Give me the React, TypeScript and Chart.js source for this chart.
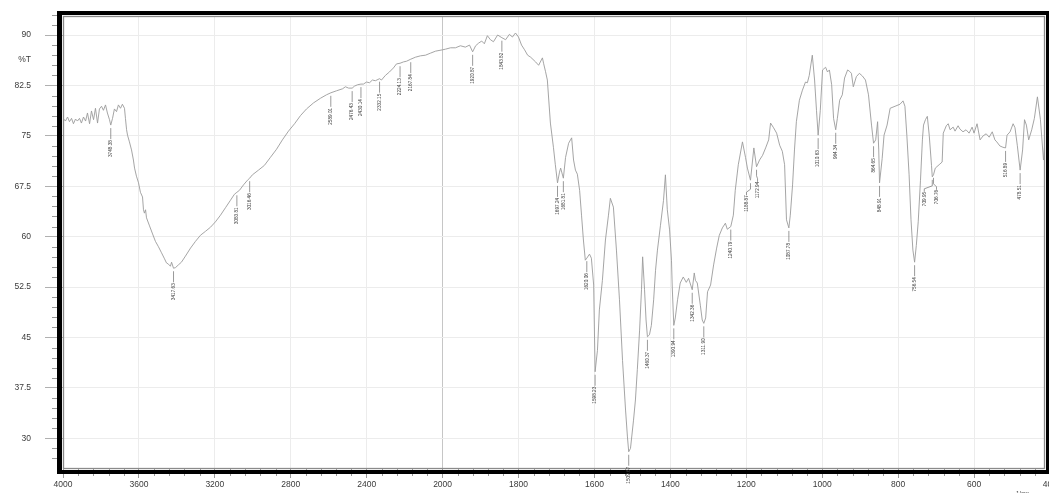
import { useEffect, useRef } from "react";
import { Chart, registerables } from "chart.js";

Chart.register(...registerables);

// Infrared spectrum, wavenumber (1/cm) against transmittance (%T)
const wavenumbers = [
  4000, 3987, 3976, 3966, 3955, 3945, 3934, 3924, 3913, 3903, 3892, 3881, 3871, 3860, 3850, 3839,
  3829, 3818, 3808, 3797, 3787, 3776, 3766, 3755, 3748.38, 3739, 3729, 3718, 3708, 3697, 3687, 3676,
  3671, 3665, 3660, 3650, 3639, 3629, 3623, 3613, 3602, 3592, 3581, 3576, 3571, 3565, 3560, 3544,
  3528, 3513, 3497, 3481, 3465, 3455, 3444, 3434, 3428, 3417.63, 3407, 3392, 3376, 3355, 3328, 3302,
  3276, 3249, 3223, 3197, 3170, 3144, 3118, 3097, 3083.81, 3070, 3049, 3028, 3016.46, 3002, 2970, 2939,
  2907, 2875, 2844, 2812, 2780, 2749, 2717, 2680, 2643, 2612, 2589.01, 2559, 2527, 2512, 2495, 2476.43,
  2464, 2448, 2430.14, 2417, 2401, 2385, 2370, 2354, 2332.15, 2322, 2301, 2280, 2259, 2243, 2224.13, 2206,
  2190, 2167.84, 2143, 2117, 2090, 2064, 2037, 2000,
  1992, 1979, 1966, 1953, 1940, 1929, 1920.87, 1913, 1905, 1897, 1890, 1882, 1874, 1866, 1855, 1843.82,
  1834, 1824, 1816, 1808, 1800, 1792, 1784, 1776, 1768, 1755, 1747, 1737, 1734, 1729, 1724, 1716,
  1708, 1703, 1697.24, 1692, 1689, 1681.81, 1676, 1668, 1660, 1655, 1650, 1645, 1639, 1634, 1629, 1624,
  1620.06, 1613, 1608, 1602, 1598.23, 1592, 1587, 1579, 1571, 1563, 1558, 1550, 1542, 1534, 1526, 1518,
  1513, 1509.67, 1505, 1497, 1492, 1487, 1481, 1476, 1473, 1468, 1464, 1460.37, 1455, 1450, 1444, 1439,
  1434, 1426, 1418, 1413, 1408, 1402, 1397, 1395, 1390.94, 1387, 1381, 1374, 1366, 1358, 1352, 1342.36,
  1337, 1334, 1329, 1321, 1316, 1311.9, 1307, 1302, 1294, 1286, 1278, 1271, 1263, 1255, 1250, 1240.79,
  1234, 1229, 1221, 1210, 1202, 1197, 1188.87, 1180, 1172.94, 1165, 1157, 1149, 1141, 1136, 1128, 1120,
  1112, 1105, 1099, 1094, 1087.78, 1084, 1078, 1073, 1068, 1060, 1052, 1044, 1039, 1034, 1026, 1020,
  1015, 1010.63, 1005, 999, 991, 986, 981, 975, 970, 964.34, 960, 954, 947, 941, 933, 928,
  923, 918, 910, 902, 894, 886, 878, 870, 864.65, 859, 854, 851, 848.91, 842, 837, 829,
  821, 808, 795, 787, 782, 777, 771, 766, 761, 756.54, 752, 747, 741, 736, 733, 728,
  723, 718, 712, 709.95, 706.76, 702, 692, 684, 681, 673, 668, 663, 655, 650, 642, 637,
  629, 621, 613, 605, 600, 592, 584, 576, 568, 560, 552, 545, 540, 532, 524, 516.89,
  513, 505, 497, 492, 486, 478.51, 472, 467, 462, 456, 448, 441, 433, 425, 417, 412,
];

const transmittance = [
  77.6, 77.2, 77.8, 77.1, 77.6, 76.8, 77.5, 77.2, 77.6, 76.9, 77.8, 77.2, 78.4, 76.8, 78.7, 77.4,
  79.1, 76.9, 79.0, 79.4, 78.8, 79.6, 78.4, 77.4, 76.6, 77.6, 79.0, 78.6, 79.6, 79.1, 79.7, 79.1,
  77.6, 75.9, 75.1, 74.1, 72.9, 71.4, 70.2, 69.0, 68.0, 66.6, 65.9, 64.0, 63.5, 64.0, 62.8, 61.6,
  60.4, 59.3, 58.5, 57.6, 56.7, 56.1, 55.9, 55.6, 56.2, 55.3, 55.4, 55.8, 56.2, 57.1, 58.3, 59.3,
  60.2, 60.8, 61.4, 62.2, 63.2, 64.3, 65.4, 66.3, 66.6, 66.9, 67.7, 68.4, 68.7, 69.2, 69.9, 70.6,
  71.8, 73.0, 74.4, 75.7, 76.8, 78.0, 79.0, 79.9, 80.6, 81.1, 81.4, 81.7, 82.0, 82.3, 82.1, 82.1,
  82.4, 82.6, 82.7, 82.7, 83.0, 82.9, 83.3, 83.2, 83.5, 83.3, 84.0, 84.5, 85.1, 85.7, 85.8, 86.0,
  86.1, 86.4, 86.7, 86.9, 87.0, 87.3, 87.6, 87.8,
  87.9, 88.1, 88.1, 88.4, 88.2, 88.5, 87.5, 88.4, 88.8, 89.1, 88.7, 89.9, 89.3, 89.0, 90.0, 89.6,
  89.3, 90.1, 89.7, 90.3, 89.7, 88.5, 87.8, 87.0, 86.7, 86.0, 85.5, 86.6, 85.8, 84.6, 83.3, 76.9,
  73.3, 70.7, 68.0, 69.6, 70.2, 68.7, 71.8, 73.9, 74.7, 71.4, 69.9, 69.3, 66.9, 63.2, 59.5, 56.5,
  56.8, 57.4, 56.8, 52.8, 39.9, 43.1, 49.1, 53.5, 59.5, 63.2, 65.7, 64.4, 58.0, 50.6, 41.6, 34.2,
  30.2, 28.0, 28.5, 32.7, 35.7, 40.2, 46.1, 52.1, 57.0, 52.1, 47.6, 45.1, 45.4, 46.8, 50.6, 55.0,
  58.0, 61.7, 65.4, 69.2, 64.0, 61.0, 56.5, 52.5, 46.8, 47.9, 50.6, 53.1, 54.0, 53.2, 53.8, 52.1,
  54.6, 53.5, 53.1, 49.8, 47.6, 47.1, 47.9, 51.8, 52.8, 55.8, 58.3, 60.2, 61.3, 62.0, 61.1, 61.5,
  63.2, 66.9, 70.7, 74.1, 71.8, 70.2, 68.4, 73.2, 70.4, 71.4, 72.1, 73.2, 74.4, 76.9, 76.2, 75.4,
  73.6, 72.7, 70.7, 62.5, 61.3, 63.2, 67.7, 72.9, 77.1, 80.3, 81.8, 83.0, 82.9, 84.0, 87.0, 83.3,
  78.8, 75.1, 78.8, 84.8, 85.2, 84.5, 84.8, 82.6, 77.6, 75.9, 77.6, 80.3, 81.1, 83.6, 84.8, 84.6,
  84.3, 82.3, 83.8, 84.3, 83.9, 83.3, 81.1, 76.6, 73.9, 74.4, 77.1, 72.9, 68.0, 71.6, 75.1, 76.6,
  79.1, 79.4, 79.7, 80.2, 79.4, 75.1, 69.2, 62.5, 58.0, 56.2, 58.7, 62.2, 68.4, 74.4, 76.6, 77.4,
  77.9, 75.1, 70.6, 68.9, 69.2, 70.2, 70.7, 71.1, 75.4, 76.5, 76.8, 75.9, 76.3, 75.7, 76.5, 76.0,
  75.6, 75.9, 75.4, 76.3, 75.4, 76.8, 74.4, 75.0, 75.3, 74.8, 75.6, 74.4, 74.1, 73.5, 73.3, 73.2,
  75.1, 75.6, 76.8, 76.2, 73.6, 69.9, 72.9, 77.4, 76.6, 74.4, 75.9, 77.6, 80.8, 77.4, 71.4, 75.1,
];

// Annotated band positions (1/cm)
const peakPositions = [
  3748.38, 3417.63, 3083.81, 3016.46, 2589.01, 2476.43, 2430.14, 2332.15, 2224.13, 2167.84,
  1920.87, 1843.82, 1697.24, 1681.81, 1620.06, 1598.23, 1509.67, 1460.37, 1390.94, 1342.36,
  1311.9, 1240.79, 1188.87, 1172.94, 1087.78, 1010.63, 964.34, 864.65, 848.91, 756.54,
  709.95, 706.76, 516.89, 478.51,
];

const xTickLabels = [4000, 3600, 3200, 2800, 2400, 2000, 1800, 1600, 1400, 1200, 1000, 800, 600, 400];
const yTickValues = [30, 37.5, 45, 52.5, 60, 67.5, 75, 82.5, 90];

// The abscissa is compressed two-fold above 2000 1/cm
const toAxis = (w: number) => (w >= 2000 ? (4000 - w) / 2 : 3000 - w);
const fromAxis = (u: number) => (u <= 1000 ? 4000 - 2 * u : 3000 - u);

const transmittanceAt = (w: number) => {
  for (let i = 0; i < wavenumbers.length - 1; i++) {
    const a = wavenumbers[i];
    const b = wavenumbers[i + 1];
    if (w <= a && w >= b) {
      const t = a === b ? 0 : (a - w) / (a - b);
      return transmittance[i] + t * (transmittance[i + 1] - transmittance[i]);
    }
  }
  return transmittance[transmittance.length - 1];
};

// label text offsets where neighbouring annotations would collide
const labelShift: Record<string, number> = { "709.95": -8, "706.76": 3, "1188.87": -4, "1172.94": 1 };

const AXIS_FONT = "'Liberation Sans', Arial, sans-serif";

const decorations = {
  id: "spectrumDecorations",
  afterDraw(chart: any) {
    const { ctx, chartArea: a, scales } = chart;
    const xs = scales.x;
    const ys = scales.y;
    ctx.save();

    // minor ticks
    ctx.strokeStyle = "#9a9a9a";
    ctx.lineWidth = 1;
    ctx.beginPath();
    for (let v = 27; v <= 93.01; v += 1.5) {
      if (Math.abs(v / 7.5 - Math.round(v / 7.5)) < 1e-6) continue;
      const py = Math.round(ys.getPixelForValue(v)) + 0.5;
      ctx.moveTo(52, py);
      ctx.lineTo(58, py);
    }
    for (let u = 0; u <= 2600; u += 40) {
      if (u % 200 === 0) continue;
      const px = Math.round(xs.getPixelForValue(u)) + 0.5;
      ctx.moveTo(px, a.bottom);
      ctx.lineTo(px, a.bottom + 8);
    }
    ctx.stroke();

    // double frame around the plot
    ctx.fillStyle = "#000";
    ctx.fillRect(57, 11, 1049 - 57, 4);
    ctx.fillRect(57, 11, 5, 474 - 11);
    ctx.fillRect(57, 470, 1049 - 57, 4);
    ctx.fillRect(1046, 11, 3, 474 - 11);
    ctx.strokeStyle = "#8a8a8a";
    ctx.lineWidth = 1.3;
    ctx.strokeRect(63.5, 16.5, 1044.5 - 63.5, 468.5 - 16.5);

    // ordinate title
    ctx.fillStyle = "#3a3a3a";
    ctx.font = `8.5px ${AXIS_FONT}`;
    ctx.textAlign = "right";
    ctx.textBaseline = "middle";
    ctx.fillText("%T", 31, 60);

    // peak annotations
    ctx.font = `4.7px ${AXIS_FONT}`;
    ctx.lineWidth = 0.7;
    ctx.strokeStyle = "#6f6f6f";
    ctx.fillStyle = "#404040";
    for (const w of peakPositions) {
      const text = w.toFixed(2);
      const px = xs.getPixelForValue(toAxis(w));
      const py = ys.getPixelForValue(transmittanceAt(w));
      const tx = px + (labelShift[text] ?? 0);
      const top = py + 3;
      ctx.beginPath();
      if (tx === px) {
        ctx.moveTo(px, top);
        ctx.lineTo(px, top + 11);
      } else {
        ctx.moveTo(px, top);
        ctx.lineTo(px, top + 6);
        ctx.lineTo(tx, top + 9);
        ctx.lineTo(tx, top + 12);
      }
      ctx.stroke();
      ctx.save();
      ctx.translate(tx, top + 12);
      ctx.rotate(-Math.PI / 2);
      ctx.textAlign = "right";
      ctx.textBaseline = "middle";
      ctx.fillText(text, 0, 0);
      ctx.restore();
    }

    // unit of the abscissa, tucked into the lower right corner
    ctx.font = `6px ${AXIS_FONT}`;
    ctx.fillStyle = "#444";
    ctx.textAlign = "left";
    ctx.textBaseline = "alphabetic";
    ctx.fillText("1/cm", 1016, 495);
    ctx.restore();
  },
};

export default function App() {
  const canvasRef = useRef<HTMLCanvasElement | null>(null);

  useEffect(() => {
    const canvas = canvasRef.current;
    if (!canvas) return;
    const points = wavenumbers.map((w, i) => ({ x: toAxis(w), y: transmittance[i] }));

    const chart = new Chart(canvas, {
      type: "line",
      data: {
        datasets: [
          {
            data: points,
            borderColor: "#9b9b9b",
            borderWidth: 0.9,
            pointRadius: 0,
            tension: 0,
            fill: false,
          },
        ],
      },
      options: {
        responsive: false,
        animation: false,
        devicePixelRatio: 1,
        layout: { padding: { top: 17, right: 4, left: 0, bottom: 0 } },
        plugins: { legend: { display: false }, tooltip: { enabled: false }, title: { display: false } },
        scales: {
          x: {
            type: "linear",
            min: 0,
            max: 2587,
            afterBuildTicks: (scale: any) => {
              scale.ticks = xTickLabels.map((w) => ({ value: toAxis(w) }));
            },
            afterFit: (scale: any) => {
              scale.height = 25;
              // the last label is allowed to run off the right edge
              scale.paddingLeft = 0;
              scale.paddingRight = 0;
            },
            ticks: {
              autoSkip: false,
              maxRotation: 0,
              padding: 2,
              color: "#3a3a3a",
              font: { family: AXIS_FONT, size: 8.5 },
              callback: (value: any) => String(Math.round(fromAxis(Number(value)))),
            },
            grid: {
              color: (c: any) => (c.tick && c.tick.value === 1000 ? "#c6c6c6" : "#ececec"),
              tickColor: "#9a9a9a",
              tickLength: 10,
              lineWidth: 1,
            },
            border: { display: false },
          },
          y: {
            type: "linear",
            min: 25.58,
            max: 92.68,
            afterBuildTicks: (scale: any) => {
              scale.ticks = yTickValues.map((v) => ({ value: v }));
            },
            afterFit: (scale: any) => {
              scale.width = 63;
              scale.paddingTop = 0;
              scale.paddingBottom = 0;
            },
            ticks: {
              padding: 14,
              color: "#3a3a3a",
              font: { family: AXIS_FONT, size: 8.5 },
              callback: (value: any) => String(value),
            },
            grid: {
              color: "#ececec",
              tickColor: "#b0b0b0",
              tickLength: 18,
              lineWidth: 1,
            },
            border: { display: false },
          },
        },
      },
      plugins: [decorations],
    });

    return () => chart.destroy();
  }, []);

  return (
    <div style={{ position: "fixed", left: 0, top: 0, width: 1049, height: 493, background: "#fff" }}>
      <canvas ref={canvasRef} width={1049} height={493} />
    </div>
  );
}
